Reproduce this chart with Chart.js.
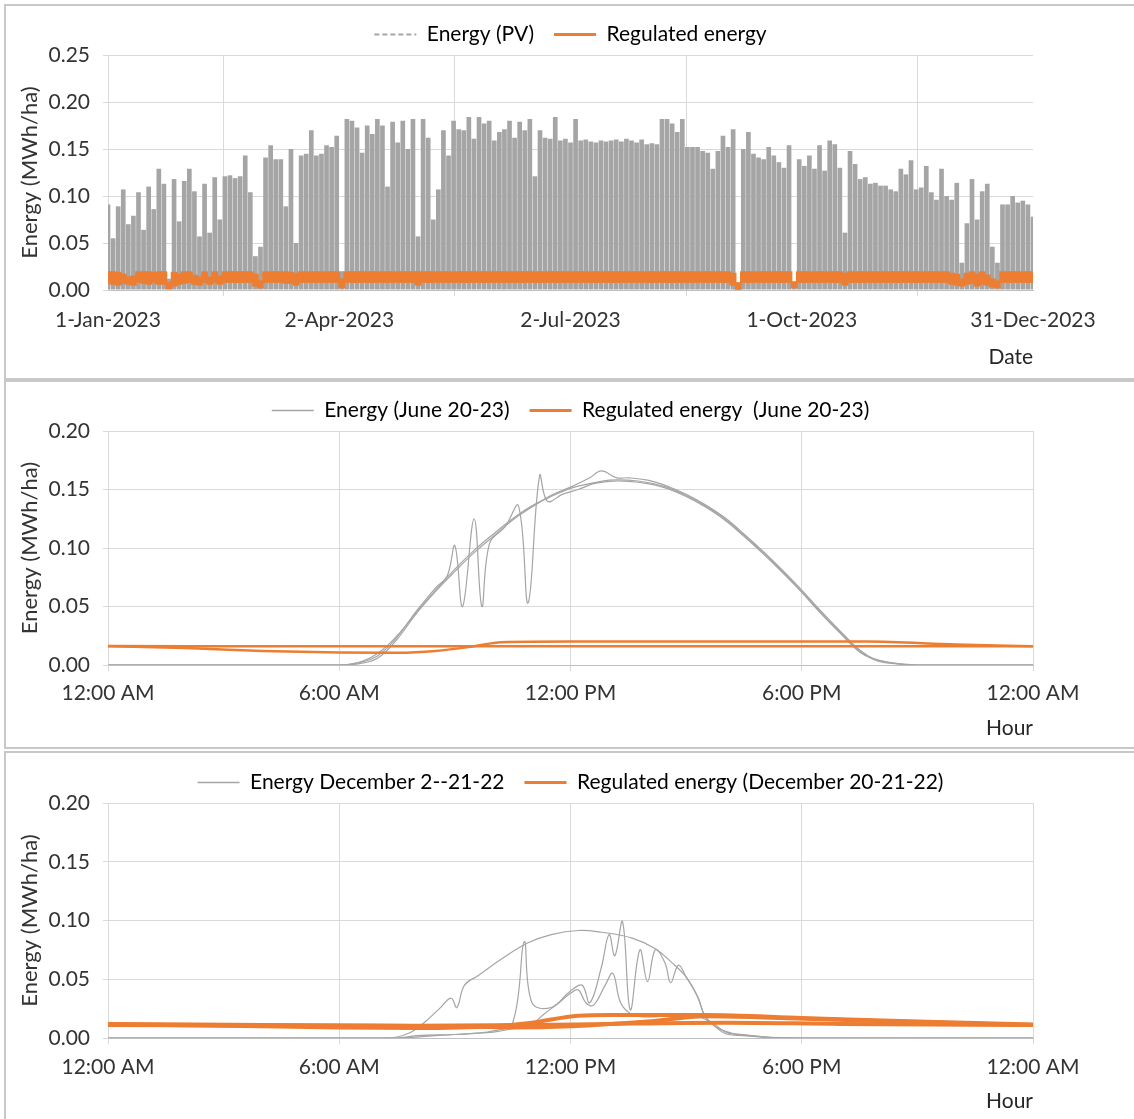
<!DOCTYPE html>
<html>
<head>
<meta charset="utf-8">
<script src="https://cdn.jsdelivr.net/npm/chart.js@4.4.0/dist/chart.umd.min.js"></script>
<style>
  body { margin: 0; background: #fff; width: 1134px; height: 1119px; overflow: hidden; position: relative; }
  .frame { position: absolute; left: 4px; width: 1200px; border: 2px solid #c8c8c8; box-sizing: border-box; }
  canvas { position: absolute; left: 0; }
</style>
</head>
<body>
<div class="frame" style="top:4px;height:376px"></div>
<div class="frame" style="top:380px;height:369px"></div>
<div class="frame" style="top:751px;height:420px"></div>
<canvas id="year" width="1134" height="378" style="top:0"></canvas>
<canvas id="june" width="1134" height="368" style="top:380px"></canvas>
<canvas id="dec" width="1134" height="368" style="top:751px"></canvas>
<script>
// ---- yearly panel: one value every 2 days (day 0 = 1 Jan 2023)
const pvPeak = [
  0.091, 0.055, 0.089, 0.107, 0.070, 0.079, 0.104, 0.064, 0.110, 0.086,
  0.129, 0.113, 0.012, 0.118, 0.073, 0.116, 0.129, 0.105, 0.057, 0.113,
  0.061, 0.120, 0.075, 0.121, 0.122, 0.119, 0.121, 0.143, 0.104, 0.036,
  0.046, 0.141, 0.154, 0.139, 0.139, 0.089, 0.150, 0.050, 0.143, 0.145,
  0.170, 0.143, 0.145, 0.154, 0.152, 0.164, 0.020, 0.182, 0.180, 0.173,
  0.146, 0.175, 0.166, 0.182, 0.175, 0.110, 0.179, 0.157, 0.180, 0.150,
  0.182, 0.057, 0.182, 0.162, 0.075, 0.107, 0.170, 0.143, 0.180, 0.171,
  0.170, 0.184, 0.161, 0.184, 0.177, 0.180, 0.159, 0.168, 0.171, 0.180,
  0.162, 0.179, 0.170, 0.182, 0.121, 0.170, 0.162, 0.161, 0.184, 0.159,
  0.161, 0.157, 0.182, 0.159, 0.160, 0.158, 0.157, 0.159, 0.158, 0.159,
  0.160, 0.158, 0.161, 0.159, 0.157, 0.160, 0.155, 0.156, 0.155, 0.182,
  0.182, 0.177, 0.168, 0.182, 0.152, 0.152, 0.152, 0.148, 0.146, 0.129,
  0.148, 0.164, 0.152, 0.171, 0.003, 0.150, 0.168, 0.145, 0.141, 0.139,
  0.152, 0.143, 0.136, 0.130, 0.154, 0.004, 0.139, 0.132, 0.143, 0.129,
  0.154, 0.127, 0.159, 0.155, 0.130, 0.061, 0.148, 0.134, 0.118, 0.120,
  0.113, 0.114, 0.111, 0.111, 0.107, 0.105, 0.129, 0.123, 0.138, 0.107,
  0.109, 0.132, 0.104, 0.096, 0.129, 0.100, 0.096, 0.114, 0.029, 0.071,
  0.118, 0.075, 0.105, 0.113, 0.046, 0.029, 0.091, 0.091, 0.100, 0.093,
  0.095, 0.091, 0.078
];
const regHigh = [
  0.0195, 0.0195, 0.019, 0.017, 0.014, 0.015, 0.0195, 0.0195, 0.0195, 0.019,
  0.0195, 0.0195, 0.008, 0.019, 0.017, 0.0195, 0.0195, 0.016, 0.014, 0.0195,
  0.014, 0.0195, 0.015, 0.0195, 0.0195, 0.0195, 0.0195, 0.0195, 0.0195, 0.017,
  0.010, 0.0195, 0.0195, 0.0195, 0.0195, 0.0195, 0.019, 0.018, 0.0195, 0.0195,
  0.0195, 0.0195, 0.0195, 0.0195, 0.0195, 0.0195, 0.012, 0.0195, 0.0195, 0.0195,
  0.0195, 0.0195, 0.0195, 0.0195, 0.0195, 0.0195, 0.0195, 0.0195, 0.0195, 0.0195,
  0.0195, 0.0195, 0.0195, 0.0195, 0.0195, 0.0195, 0.0195, 0.0195, 0.0195, 0.0195,
  0.0195, 0.0195, 0.0195, 0.0195, 0.0195, 0.0195, 0.0195, 0.0195, 0.0195, 0.0195,
  0.0195, 0.0195, 0.0195, 0.0195, 0.0195, 0.0195, 0.0195, 0.0195, 0.0195, 0.0195,
  0.0195, 0.0195, 0.0195, 0.0195, 0.0195, 0.0195, 0.0195, 0.0195, 0.0195, 0.0195,
  0.0195, 0.0195, 0.0195, 0.0195, 0.0195, 0.0195, 0.0195, 0.0195, 0.0195, 0.0195,
  0.0195, 0.0195, 0.0195, 0.0195, 0.0195, 0.0195, 0.0195, 0.0195, 0.0195, 0.0195,
  0.0195, 0.0195, 0.0195, 0.018, 0.008, 0.0195, 0.0195, 0.0195, 0.0195, 0.0195,
  0.0195, 0.0195, 0.0195, 0.0195, 0.0195, 0.009, 0.0195, 0.0195, 0.0195, 0.0195,
  0.0195, 0.0195, 0.0195, 0.0195, 0.0195, 0.018, 0.0195, 0.0195, 0.0195, 0.0195,
  0.0195, 0.0195, 0.0195, 0.0195, 0.0195, 0.0195, 0.0195, 0.0195, 0.0195, 0.0195,
  0.0195, 0.0195, 0.0195, 0.0195, 0.0195, 0.0195, 0.018, 0.017, 0.012, 0.018,
  0.0195, 0.017, 0.0195, 0.016, 0.012, 0.010, 0.0195, 0.0195, 0.0195, 0.0195,
  0.0195, 0.0195, 0.0195
];
const regLow = [
  0.008, 0.006, 0.005, 0.007, 0.006, 0.005, 0.008, 0.007, 0.006, 0.008,
  0.006, 0.006, 0.001, 0.004, 0.006, 0.007, 0.008, 0.006, 0.005, 0.008,
  0.006, 0.008, 0.006, 0.008, 0.008, 0.008, 0.008, 0.008, 0.008, 0.004,
  0.002, 0.008, 0.008, 0.008, 0.008, 0.007, 0.007, 0.005, 0.008, 0.008,
  0.008, 0.008, 0.008, 0.008, 0.008, 0.008, 0.002, 0.008, 0.008, 0.008,
  0.008, 0.008, 0.008, 0.008, 0.008, 0.008, 0.008, 0.008, 0.008, 0.008,
  0.008, 0.005, 0.008, 0.008, 0.008, 0.008, 0.008, 0.008, 0.008, 0.008,
  0.008, 0.008, 0.008, 0.008, 0.008, 0.008, 0.008, 0.008, 0.008, 0.008,
  0.008, 0.008, 0.008, 0.008, 0.008, 0.008, 0.008, 0.008, 0.008, 0.008,
  0.008, 0.008, 0.008, 0.008, 0.008, 0.008, 0.008, 0.008, 0.008, 0.008,
  0.008, 0.008, 0.008, 0.008, 0.008, 0.008, 0.008, 0.008, 0.008, 0.008,
  0.008, 0.008, 0.008, 0.008, 0.008, 0.008, 0.008, 0.008, 0.008, 0.008,
  0.008, 0.008, 0.008, 0.005, 0.000, 0.008, 0.008, 0.008, 0.008, 0.008,
  0.008, 0.008, 0.008, 0.008, 0.008, 0.002, 0.008, 0.008, 0.008, 0.008,
  0.008, 0.008, 0.008, 0.008, 0.008, 0.005, 0.008, 0.008, 0.008, 0.008,
  0.008, 0.008, 0.008, 0.008, 0.008, 0.008, 0.008, 0.008, 0.008, 0.008,
  0.008, 0.008, 0.008, 0.008, 0.008, 0.008, 0.006, 0.005, 0.004, 0.006,
  0.007, 0.004, 0.006, 0.005, 0.003, 0.002, 0.008, 0.008, 0.008, 0.008,
  0.008, 0.008, 0.008
];
const dateTicks = [0, 91, 182, 273, 364];
const dateLabels = ["1-Jan-2023", "2-Apr-2023", "2-Jul-2023", "1-Oct-2023", "31-Dec-2023"];

// ---- daily panels: [hour, MWh/ha]
const hourTicks = [0, 6, 12, 18, 24];
const hourLabels = ["12:00 AM", "6:00 AM", "12:00 PM", "6:00 PM", "12:00 AM"];

const juneDay1 = [[0,0],[6,0],[6.5,0.002],[7,0.010],[7.5,0.025],[8,0.045],[8.5,0.064],[9,0.082],[9.5,0.098],[10,0.112],[10.5,0.125],[11,0.136],[11.5,0.144],[12,0.151],[12.5,0.155],[13,0.158],[13.5,0.158],[14,0.156],[14.5,0.152],[15,0.145],[15.5,0.136],[16,0.125],[16.5,0.111],[17,0.096],[17.5,0.080],[18,0.063],[18.5,0.045],[19,0.028],[19.5,0.012],[20,0.003],[20.5,0.001],[21,0],[24,0]];
const juneDay2 = [[0,0],[6,0],[6.5,0.001],[7,0.006],[7.5,0.022],[8,0.044],[8.5,0.063],[9,0.080],[9.5,0.096],[10,0.110],[10.5,0.124],[11,0.135],[11.5,0.145],[12,0.152],[12.5,0.160],[12.8,0.166],[13.2,0.160],[13.5,0.160],[14,0.158],[14.5,0.153],[15,0.146],[15.5,0.137],[16,0.126],[16.5,0.112],[17,0.097],[17.5,0.081],[18,0.064],[18.5,0.046],[19,0.029],[19.5,0.013],[20,0.004],[21,0],[24,0]];
const juneDay3 = [[0,0],[6,0],[6.5,0.002],[7,0.008],[7.5,0.024],[8,0.046],[8.5,0.066],[8.8,0.076],[9.0,0.102],[9.2,0.050],[9.5,0.125],[9.7,0.050],[9.9,0.104],[10.3,0.118],[10.65,0.136],[10.9,0.053],[11.2,0.162],[11.4,0.140],[11.8,0.146],[12.2,0.150],[12.6,0.155],[13,0.157],[13.5,0.157],[14,0.155],[14.5,0.151],[15,0.144],[15.5,0.135],[16,0.124],[16.5,0.110],[17,0.095],[17.5,0.079],[18,0.062],[18.5,0.044],[19,0.027],[19.5,0.011],[19.8,0.006],[20.3,0.002],[21,0],[24,0]];
const juneReg1 = [[0,0.016],[2,0.0145],[4,0.012],[6,0.0107],[7.5,0.0105],[8.5,0.012],[9.5,0.016],[10.2,0.0195],[12,0.020],[16,0.020],[19.7,0.020],[22,0.0175],[24,0.016]];
const juneReg2 = [[0,0.0162],[6,0.016],[12,0.016],[18,0.016],[24,0.016]];

const decDay1 = [[0,0],[7.3,0],[7.8,0.004],[8.2,0.013],[8.6,0.025],[8.9,0.034],[9.05,0.026],[9.25,0.045],[9.6,0.053],[10.2,0.067],[10.9,0.081],[11.5,0.088],[12.2,0.0915],[12.8,0.090],[13.6,0.085],[14.2,0.076],[14.6,0.065],[15.0,0.052],[15.3,0.035],[15.5,0.018],[15.8,0.010],[16.1,0.004],[16.5,0.003],[17.4,0],[24,0]];
const decDay2 = [[0,0],[7.5,0],[8,0.002],[9,0.003],[9.5,0.004],[10,0.006],[10.5,0.013],[10.8,0.082],[11.0,0.030],[11.5,0.026],[12.0,0.040],[12.3,0.045],[12.5,0.030],[12.8,0.060],[13.0,0.088],[13.15,0.070],[13.35,0.099],[13.55,0.024],[13.8,0.075],[14.0,0.048],[14.2,0.075],[14.45,0.064],[14.6,0.047],[14.8,0.062],[15.0,0.052],[15.3,0.035],[15.5,0.018],[15.8,0.009],[16.2,0.004],[17,0.001],[18,0],[24,0]];
const decDay3 = [[0,0],[7.5,0],[8.5,0.002],[9.5,0.004],[10,0.005],[10.5,0.008],[11,0.012],[11.3,0.020],[11.7,0.030],[12.0,0.038],[12.2,0.041],[12.4,0.030],[12.6,0.028],[12.9,0.045],[13.1,0.055],[13.3,0.030],[13.6,0.020],[14,0.018],[14.5,0.019],[15,0.020],[15.5,0.016],[16,0.004],[16.5,0.002],[17.5,0],[24,0]];
const decReg1 = [[0,0.0115],[3,0.0105],[6,0.009],[8,0.0085],[10,0.010],[11,0.013],[12.2,0.019],[13,0.0195],[15.5,0.0195],[18,0.017],[21,0.014],[24,0.0115]];
const decReg2 = [[0,0.011],[6,0.0105],[9,0.010],[10.5,0.009],[12,0.010],[14,0.014],[15.5,0.0185],[17,0.0175],[20,0.0145],[24,0.011]];
const decReg3 = [[0,0.012],[4,0.011],[8,0.0105],[11,0.011],[13,0.012],[16,0.013],[19,0.012],[24,0.011]];

const GRAY = "#a5a5a5";
const ORANGE = "#ed7d31";

Chart.defaults.font.family = "Lato";
Chart.defaults.color = "#333333";

function yAxis(max) {
  return {
    min: 0,
    max: max,
    ticks: { stepSize: 0.05, padding: 13, font: { size: 21 }, callback: (v) => v.toFixed(2) },
    grid: { color: "#d9d9d9", tickLength: 5 },
    border: { color: "#d9d9d9" },
    title: { display: true, text: "Energy (MWh/ha)", color: "#333333", font: { size: 22 }, padding: { top: 17, bottom: 0 } },
    afterFit: (s) => { s.width = 108; }
  };
}

function xAxis(max, tickVals, tickText, titleText, height, tickPad, titlePad) {
  return {
    type: "linear",
    min: 0,
    max: max,
    offset: false,
    afterBuildTicks: (s) => { s.ticks = tickVals.map((v) => ({ value: v })); },
    ticks: { padding: tickPad, font: { size: 21 }, maxRotation: 0, autoSkip: false,
      callback: (v) => tickText[tickVals.indexOf(v)] },
    grid: { color: "#d9d9d9", tickLength: 6 },
    border: { color: "#bfbfbf" },
    title: { display: true, text: titleText, align: "end", color: "#262626", font: { size: 21 }, padding: { top: 0, bottom: titlePad } },
    afterFit: (s) => { s.height = height; }
  };
}

function legend(texts, colors, widths, dashes) {
  return {
    position: "top",
    fullSize: false,
    labels: {
      usePointStyle: true,
      pointStyleWidth: 42,
      padding: 20,
      color: "#262626",
      font: { size: 21 },
      generateLabels: () => texts.map((t, i) => ({
        text: t,
        fillStyle: colors[i],
        strokeStyle: colors[i],
        lineWidth: widths[i],
        lineDash: dashes[i],
        pointStyle: "line",
        hidden: false,
        datasetIndex: i
      }))
    }
  };
}

const pts = (arr) => arr.map((p) => ({ x: p[0], y: p[1] }));

function hourLine(arr, color, width, smooth) {
  return {
    data: pts(arr),
    borderColor: color,
    borderWidth: width,
    pointRadius: 0,
    tension: 0.4,
    cubicInterpolationMode: smooth,
    order: color === GRAY ? 1 : 0
  };
}

// ---- yearly chart
new Chart(document.getElementById("year"), {
  type: "bar",
  data: {
    datasets: [
      {
        data: pvPeak.map((v, i) => ({ x: i * 2, y: v })),
        backgroundColor: GRAY,
        barPercentage: 0.92,
        categoryPercentage: 1,
        grouped: false,
        order: 1
      },
      {
        data: regHigh.map((v, i) => ({ x: i * 2, y: [regLow[i], v] })),
        backgroundColor: ORANGE,
        barThickness: 6,
        grouped: false,
        order: 0
      }
    ]
  },
  options: {
    responsive: false,
    animation: false,
    layout: { padding: { top: 4, left: 0, right: 101, bottom: 5 } },
    plugins: {
      legend: legend(["Energy (PV)", "Regulated energy"], [GRAY, ORANGE], [2, 3], [[5, 3], []]),
      tooltip: { enabled: false }
    },
    scales: {
      x: xAxis(364, dateTicks, dateLabels, "Date", 83, 12, 3),
      y: yAxis(0.25)
    }
  }
});

// ---- June chart
new Chart(document.getElementById("june"), {
  type: "line",
  data: {
    datasets: [
      hourLine(juneDay1, GRAY, 1.2, "default"),
      hourLine(juneDay2, GRAY, 1.2, "default"),
      hourLine(juneDay3, GRAY, 1.2, "default"),
      hourLine(juneReg1, ORANGE, 2.5, "monotone"),
      hourLine(juneReg2, ORANGE, 2.5, "monotone")
    ]
  },
  options: {
    responsive: false,
    animation: false,
    layout: { padding: { top: 0, left: 0, right: 101, bottom: 5 } },
    plugins: {
      legend: legend(["Energy (June 20-23)", "Regulated energy  (June 20-23)"], [GRAY, ORANGE], [1.5, 3], [[], []]),
      tooltip: { enabled: false }
    },
    scales: {
      x: xAxis(24, hourTicks, hourLabels, "Hour", 78, 10, 2),
      y: yAxis(0.20)
    }
  }
});

// ---- December chart
new Chart(document.getElementById("dec"), {
  type: "line",
  data: {
    datasets: [
      hourLine(decDay1, GRAY, 1.2, "default"),
      hourLine(decDay2, GRAY, 1.2, "default"),
      hourLine(decDay3, GRAY, 1.2, "default"),
      hourLine(decReg1, ORANGE, 4, "monotone"),
      hourLine(decReg2, ORANGE, 4, "monotone"),
      hourLine(decReg3, ORANGE, 4, "monotone")
    ]
  },
  options: {
    responsive: false,
    animation: false,
    layout: { padding: { top: 1, left: 0, right: 101, bottom: 5 } },
    plugins: {
      legend: legend(["Energy December 2--21-22", "Regulated energy (December 20-21-22)"], [GRAY, ORANGE], [1.5, 3], [[], []]),
      tooltip: { enabled: false }
    },
    scales: {
      x: xAxis(24, hourTicks, hourLabels, "Hour", 76, 11, 0),
      y: yAxis(0.20)
    }
  }
});
</script>
</body>
</html>
